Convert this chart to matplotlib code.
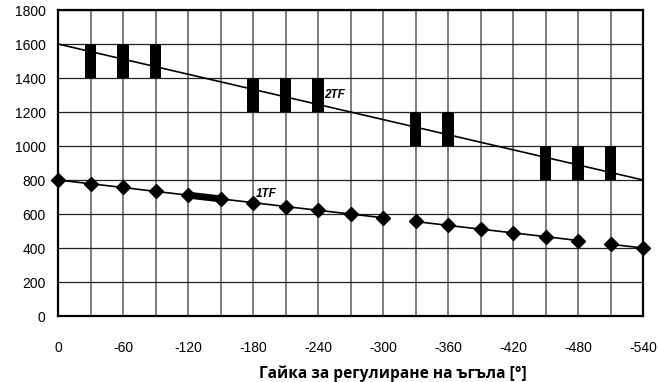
import numpy as np
import matplotlib.pyplot as plt

plt.rcParams['axes.unicode_minus'] = False

# nut angle, degrees
angles = [0, -30, -60, -90, -120, -150, -180, -210, -240, -270, -300,
          -330, -360, -390, -420, -450, -480, -510, -540]
tf1 = [800, 778, 756, 733, 711, 689, 667, 644, 622, 600, 578,
       556, 533, 511, 489, 467, 444, 422, 400]
# 1TF is drawn in three runs
tf1_breaks = [11, 17]

tf2_x = [0, -540]
tf2_y = [1600, 800]

# black blocks along 2TF: angle, bottom, top
block_x = [-30, -60, -90, -180, -210, -240, -330, -360, -450, -480, -510]
block_lo = [1400, 1400, 1400, 1200, 1200, 1200, 1000, 1000, 800, 800, 800]
block_hi = [1600, 1600, 1600, 1400, 1400, 1400, 1200, 1200, 1000, 1000, 1000]

fig = plt.figure(figsize=(6.59, 3.82), dpi=100)
ax = fig.add_axes([58 / 659, 1 - 316 / 382, 585 / 659, 306 / 382])

ax.set_xlim(0, -540)
ax.set_ylim(0, 1800)
ax.set_xticks(np.arange(0, -541, -60))
ax.set_xticks(np.arange(-30, -541, -60), minor=True)
ax.set_yticks(np.arange(0, 1801, 200))
ax.tick_params(which='both', length=0, labelsize=10)
ax.tick_params(axis='x', pad=18)
ax.tick_params(axis='y', pad=9)
for lab in ax.get_xticklabels() + ax.get_yticklabels():
    lab.set_family('Liberation Sans')

ax.grid(axis='x', which='both', color='#666666', lw=1.2)
ax.grid(axis='y', color='#222222', lw=0.9)
ax.set_axisbelow(True)
for s in ax.spines.values():
    s.set_linewidth(1.6)

ax.bar(block_x, np.array(block_hi) - np.array(block_lo), bottom=block_lo,
       width=11, color='black', zorder=2)

ax.plot(tf2_x, tf2_y, color='black', lw=1.2, zorder=3)

starts = [0] + tf1_breaks
ends = tf1_breaks + [len(angles)]
for a, b in zip(starts, ends):
    ax.plot(angles[a:b], tf1[a:b], color='black', lw=1.2, marker='D',
            markersize=7, zorder=4, clip_on=False)
ax.plot(angles[4:6], tf1[4:6], color='black', lw=5, zorder=4)

ax.text(-246, 1300, '2TF', fontsize=8.5, fontweight='bold', fontstyle='italic',
        va='center', family='Liberation Sans')
ax.text(-183, 715, '1TF', fontsize=8.5, fontweight='bold', fontstyle='italic',
        va='center', family='Liberation Sans')

# axis title sits a bit right of centre
fig.text(393 / 659, 1 - 374 / 382, 'Гайка за регулиране на ъгъла [°]',
         fontsize=11.2, fontweight='bold', family='Open Sans',
         ha='center', va='center')

fig.savefig('out.png', dpi=100)
